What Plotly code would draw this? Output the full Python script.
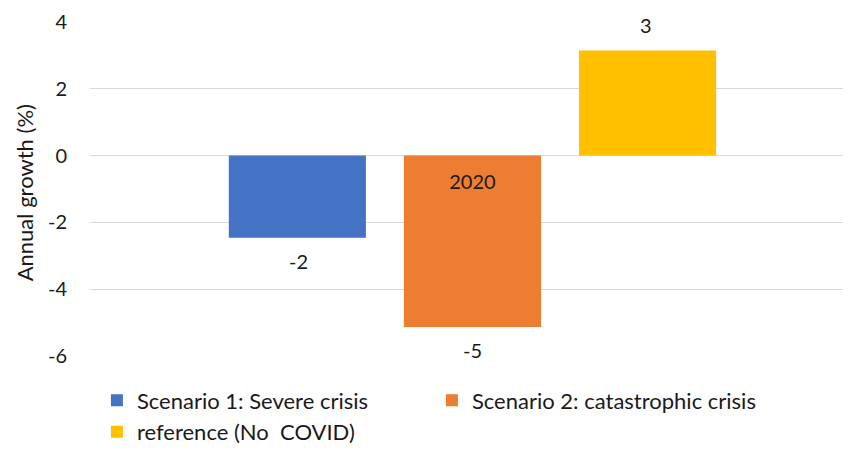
import plotly.graph_objects as go

years = ['2020']
series_names = ['Scenario 1: Severe crisis', 'Scenario 2: catastrophic crisis', 'reference (No  COVID)']
series_values = [[-2.46], [-5.13], [3.15]]
series_colors = ['#4472C4', '#ED7D31', '#FFC000']
y_ticks = [-6, -4, -2, 0, 2, 4]
y_title = 'Annual growth (%)'

FONT = 'Lato'
TEXT_COLOR = '#1a1a1a'
SLOT_PX = 174  # distance between bar centres within the group

fig = go.Figure()
for i, (name, vals, color) in enumerate(zip(series_names, series_values, series_colors)):
    fig.add_trace(go.Bar(
        x=years, y=vals, name=name,
        marker_color=color, marker_line_width=0))
    # data labels, Excel style: a bit further away from the bar end
    for k, v in enumerate(vals):
        fig.add_annotation(
            x=k, y=v, text=f'{v:.0f}', showarrow=False,
            xshift=(i - 1) * SLOT_PX, yshift=25 if v >= 0 else -23,
            yanchor='middle', font=dict(family=FONT, size=20, color=TEXT_COLOR))

# y axis title placed by hand, further left like the Excel original
fig.add_annotation(
    xref='paper', yref='paper', x=-0.086, y=0.49, text=y_title,
    textangle=-90, showarrow=False, xanchor='center', yanchor='middle',
    font=dict(family=FONT, size=22, color=TEXT_COLOR))

fig.update_layout(
    width=851, height=452,
    margin=dict(l=82, r=1, t=14, b=104),
    plot_bgcolor='white', paper_bgcolor='white',
    barmode='group', bargap=0.316, bargroupgap=0.217,
    font=dict(family=FONT, size=18, color=TEXT_COLOR),
    showlegend=True,
    legend=dict(orientation='h', x=0.009, y=-0.07, xanchor='left', yanchor='top',
                entrywidth=290, entrywidthmode='pixels',
                font=dict(family=FONT, size=22, color=TEXT_COLOR),
                itemwidth=30),
    yaxis=dict(range=[-6, 4], tickvals=y_ticks, ticktext=[str(t) for t in y_ticks],
               showgrid=True, gridcolor='#d9d9d9', gridwidth=1.3, zeroline=True,
               zerolinecolor='#d9d9d9', zerolinewidth=1.3,
               tickfont=dict(size=20), ticks='', ticklabelstandoff=22),
    xaxis=dict(type='category', anchor='free', position=0.6, showline=False, ticks='',
               range=[-0.498, 0.502],
               tickfont=dict(size=20), ticklabelstandoff=12, showgrid=False),
)

fig.write_html('out.html')
